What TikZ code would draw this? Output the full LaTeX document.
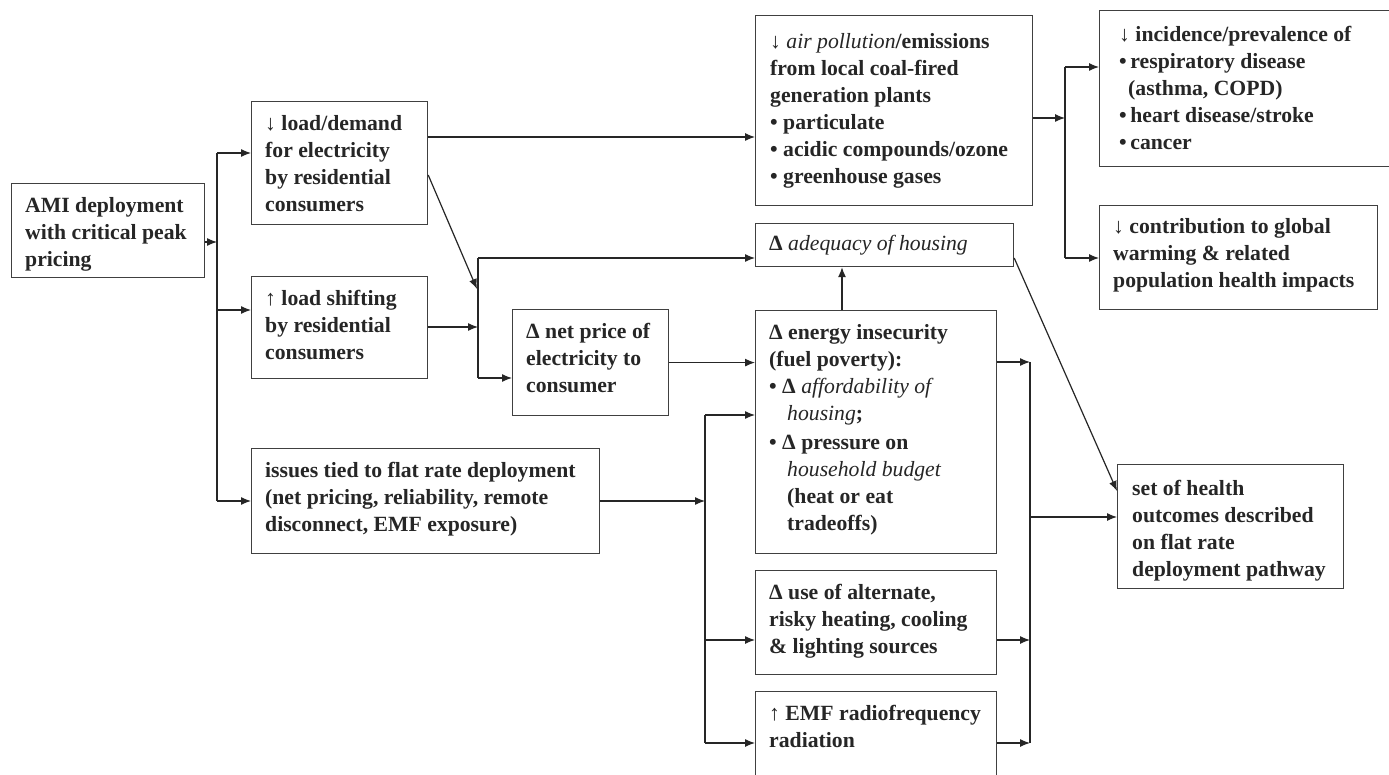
\documentclass[tikz,border=0pt]{standalone}
\usepackage{fontspec}
\setmainfont{Liberation Serif}
\usetikzlibrary{arrows.meta,calc}
\newcommand\mybox[7][14,13.5]{%
  \node[box,minimum width=#5pt,minimum height=#6pt] (#2) at (#3,#4) {};
  \node[txt] (#2t) at ($(#2.north west)+(#1)$) {\rule{0pt}{16pt}#7};}
\newcommand\ital[1]{{\mdseries\itshape #1}}
\begin{document}
\begin{tikzpicture}[x=1pt,y=-1pt,
  box/.style={draw=black!75,line width=1.2pt,rectangle,inner sep=0pt,anchor=north west},
  txt/.style={anchor=north west,inner sep=0pt,align=left,text=black!85,
    font=\fontsize{21.7}{27}\selectfont\bfseries},
  conn/.style={draw=black!85,line width=1.2pt},
  arr/.style={conn,-{Latex[length=10pt,width=8pt]}}]
\useasboundingbox (0,0) rectangle (1389,775);
\clip (0,0) rectangle (1389,775);
\fill[white] (0,0) rectangle (1389,775);

\mybox{ami}{11}{183}{193}{94}{AMI deployment\\with critical peak\\pricing}
\mybox{ld}{251}{101}{176}{123}{↓ load/demand\\for electricity\\by residential\\consumers}
\mybox{ls}{251}{276}{176}{102}{↑ load shifting\\by residential\\consumers}
\mybox{iss}{251}{448}{348}{105}{issues tied to flat rate deployment\\(net pricing, reliability, remote\\disconnect, EMF exposure)}
\mybox{np}{512}{309}{156}{106}{Δ net price of\\electricity to\\consumer}
\mybox[15,17]{ap}{755}{15}{277}{190}{↓ \ital{air pollution}/emissions\\from local coal-fired\\generation plants\\• particulate\\• acidic compounds/ozone\\• greenhouse gases}
\mybox[14,11]{adq}{755}{223}{258}{43}{Δ \ital{adequacy of housing}}
\mybox{ei}{755}{310}{241}{243}{Δ energy insecurity\\(fuel poverty):\\• Δ \ital{affordability of}\\\hspace*{18pt}\ital{housing};\\[2pt]• Δ pressure on\\\hspace*{18pt}\ital{household budget}\\\hspace*{18pt}(heat or eat\\\hspace*{18pt}tradeoffs)}
\mybox{alt}{755}{570}{241}{104}{Δ use of alternate,\\risky heating, cooling\\\& lighting sources}
\mybox{emf}{755}{691}{241}{120}{↑ EMF radiofrequency\\radiation}
\mybox[20,15]{inc}{1099}{10}{300}{156}{↓ incidence/prevalence of\\•\,respiratory disease\\\hspace*{9pt}(asthma, COPD)\\•\,heart disease/stroke\\•\,cancer}
\mybox[14,12]{gw}{1099}{205}{278}{104}{↓ contribution to global\\warming \& related\\population health impacts}
\mybox[15,15]{set}{1117}{464}{226}{124}{set of health\\outcomes described\\on flat rate\\deployment pathway}

% left trunk
\coordinate (lt1) at (217,153);
\coordinate (lt2) at (217,242);
\coordinate (lt3) at (217,310);
\coordinate (lt4) at (217,501);
\draw[conn] (lt1) -- (lt4);
\draw[arr] (ami.east |- lt2) -- (lt2);
\draw[arr] (lt1) -- (lt1 -| ld.west);
\draw[arr] (lt3) -- (lt3 -| ls.west);
\draw[arr] (lt4) -- (lt4 -| iss.west);

% load/demand to air pollution
\coordinate (c1) at (600,137);
\draw[arr] (ld.east |- c1) -- (ap.west |- c1);

% middle junction
\coordinate (m1) at (478,258);
\coordinate (m2) at (478,327);
\coordinate (m3) at (478,378);
\coordinate (m4) at (477,289);
\draw[conn] (m1) -- (m3);
\draw[arr] (m1) -- (m1 -| adq.west);
\draw[arr] (m3) -- (m3 -| np.west);
\draw[arr] (ls.east |- m2) -- (m2);
\draw[arr] ($(ld.north east)+(0,74)$) -- (m4);

% net price to energy insecurity
\draw[arr] (np.east) -- (np.east -| ei.west);

% issues trunk
\coordinate (r1) at (705,415);
\coordinate (r2) at (705,501);
\coordinate (r3) at (705,640);
\coordinate (r4) at (705,743);
\draw[conn] (r1) -- (r4);
\draw[arr] (iss.east |- r2) -- (r2);
\draw[arr] (r1) -- (r1 -| ei.west);
\draw[arr] (r3) -- (r3 -| alt.west);
\draw[arr] (r4) -- (r4 -| emf.west);

% energy insecurity up to adequacy
\coordinate (u1) at (842,300);
\draw[arr] (ei.north -| u1) -- (adq.south -| u1);

% adequacy to set of outcomes
\draw[arr] ($(adq.north east)+(0,35)$) -- ($(set.north west)+(0,27)$);

% right trunk
\coordinate (s1) at (1030,362);
\coordinate (s2) at (1030,517);
\coordinate (s3) at (1030,640);
\coordinate (s4) at (1030,743);
\draw[conn] (s1) -- (s4);
\draw[arr] (ei.east |- s1) -- (s1);
\draw[arr] (alt.east |- s3) -- (s3);
\draw[arr] (emf.east |- s4) -- (s4);
\draw[arr] (s2) -- (s2 -| set.west);

% air pollution trunk
\coordinate (p1) at (1065,67);
\coordinate (p2) at (1065,118);
\coordinate (p3) at (1065,258);
\draw[conn] (p1) -- (p3);
\draw[arr] (ap.east |- p2) -- (p2);
\draw[arr] (p1) -- (p1 -| inc.west);
\draw[arr] (p3) -- (p3 -| gw.west);
\end{tikzpicture}
\end{document}
